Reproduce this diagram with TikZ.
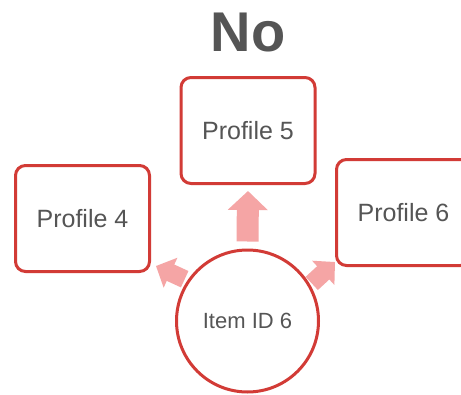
\documentclass[tikz,border=0pt]{standalone}
\usepackage{fontspec}
\setmainfont{Liberation Sans}
\usetikzlibrary{arrows.meta}
\definecolor{boxred}{HTML}{D23B36}
\definecolor{arrowpink}{HTML}{F5A5A5}
\definecolor{txtgray}{HTML}{555555}
\begin{document}
\begin{tikzpicture}[x=1pt,y=-1pt,
  profilebox/.style={draw=boxred, line width=3pt, rounded corners=10pt, fill=white,
    minimum width=134pt, minimum height=106pt, inner sep=0pt,
    text=txtgray, font=\fontsize{25}{28}\selectfont},
  itemcircle/.style={draw=boxred, line width=3pt, circle, fill=white,
    minimum size=142pt, inner sep=0pt, text=txtgray, font=\fontsize{22}{26}\selectfont},
  uparrow/.style={draw=arrowpink, line width=22pt, -{Triangle[width=39pt,length=19pt]}, arrowpink},
  sidearrow/.style={draw=arrowpink, line width=18pt, -{Triangle[width=32pt,length=16pt]}, arrowpink}
]
\fill[white] (0,0) rectangle (461,394);
\useasboundingbox (0,0) rectangle (461,394);
\clip (0,0) rectangle (461,394);
\node[text=txtgray, font=\bfseries\fontsize{56}{60}\selectfont] (title) at (248,33) {No};
\node[profilebox] (p5) at (248,130.5) {Profile 5};
\node[profilebox] (p4) at (82.5,218.5) {Profile 4};
\node[profilebox] (p6) at (403.5,212.5) {Profile 6};
\node[itemcircle] (c) at (247.5,321) {Item ID 6};
\coordinate (t4) at (156,266);
\coordinate (t6) at (335,262);
\draw[uparrow] ([yshift=7pt]c.north) -- ([yshift=-6pt]p5.south);
\draw[sidearrow, shorten <=3pt] (c.146) -- (t4);
\draw[sidearrow, shorten <=2pt] (c.30) -- (t6);
\end{tikzpicture}
\end{document}
